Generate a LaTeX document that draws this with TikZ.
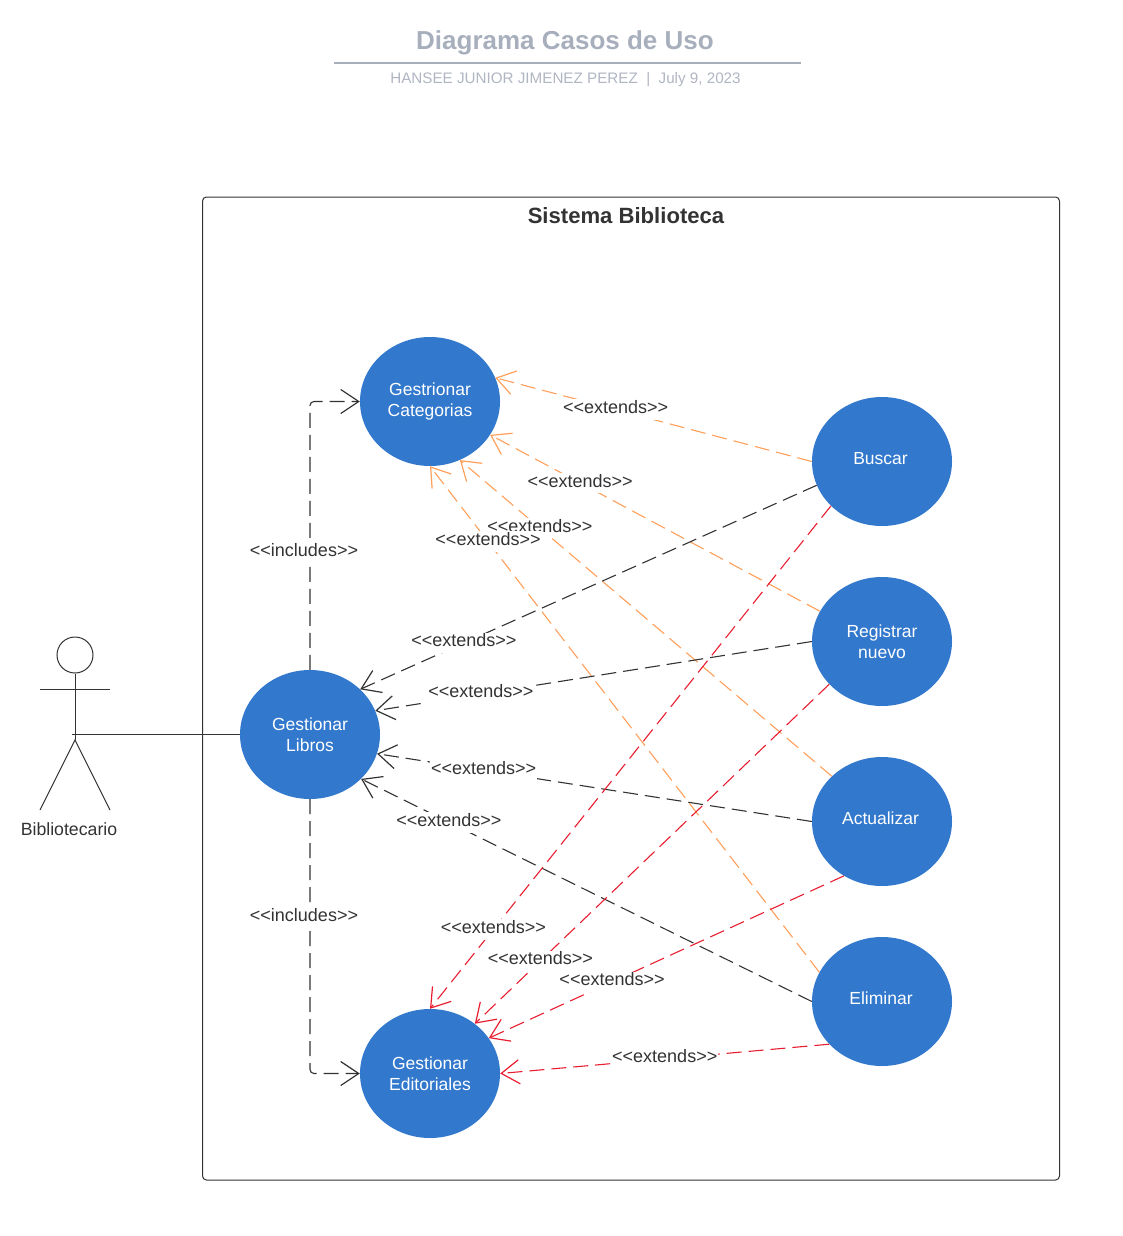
\documentclass[tikz,border=0pt]{standalone}
\usepackage{fontspec}
\setmainfont[Ligatures=TeXOff]{Liberation Sans}
\usetikzlibrary{arrows.meta}
\usetikzlibrary{shapes.geometric}

\definecolor{ucblue}{RGB}{50,120,204}
\definecolor{ink}{RGB}{51,51,51}
\definecolor{headgray}{RGB}{168,175,188}
\definecolor{subgray}{RGB}{176,181,194}
\definecolor{linkorange}{RGB}{255,159,90}
\definecolor{linkred}{RGB}{232,30,48}

\tikzset{
  usecase/.style={ellipse,fill=ucblue,text=white,minimum width=140pt,minimum height=129pt,inner sep=0pt,align=center,font=\fontsize{17.5}{21}\selectfont},
  lbl/.style={fill=white,text=ink,inner xsep=1pt,inner ysep=0pt,text height=14.25pt,text depth=6.25pt,font=\fontsize{18}{21}\selectfont},
  link/.style={line width=1.1pt,dash pattern=on 15pt off 7pt,-{Straight Barb[length=18pt,width=24pt,line width=1.2pt]}},
  xorange/.style={link,color=linkorange},
  xblack/.style={link,color=ink},
  xred/.style={link,color=linkred},
  person/.style={line width=1pt,color=ink}
}

\begin{document}
\begin{tikzpicture}[x=1pt,y=-1pt]
  \useasboundingbox (0,0) rectangle (1123,1236);

  \node [text=headgray,font=\bfseries\fontsize{26}{30}\selectfont] (title) at (565,43) {Diagrama Casos de Uso};
  \coordinate (ruleleft) at (334,63);
  \coordinate (ruleright) at (801,63);
  \draw [headgray,line width=2pt] (ruleleft) -- (ruleright);
  \node [text=subgray,font=\fontsize{15.2}{18}\selectfont] (subtitle) at (565.5,80) {HANSEE JUNIOR JIMENEZ PEREZ~~|~~July 9, 2023};

  \draw [ink,line width=1pt,rounded corners=4pt] (202.5,197) rectangle (1059.5,1180);
  \node [text=ink,font=\bfseries\fontsize{22.1}{26}\selectfont] (system) at (626,215.5) {Sistema Biblioteca};

  \node [usecase] (cat) at (430,401.5)  {Gestrionar\\Categorias};
  \node [usecase] (lib) at (310,734.5)  {Gestionar\\Libros};
  \node [usecase] (edi) at (430,1073.5) {Gestionar\\Editoriales};
  \node [usecase] (bus) at (882,461.5)  {\raisebox{6pt}{Buscar\hspace{3pt}}};
  \node [usecase] (reg) at (882,641.5)  {Registrar\\nuevo};
  \node [usecase] (act) at (882,821.5)  {\raisebox{6pt}{Actualizar\hspace{3pt}}};
  \node [usecase] (eli) at (882,1001.5) {\raisebox{6pt}{Eliminar\hspace{2pt}}};

  % actor
  \node [draw=ink,line width=1pt,circle,minimum size=36pt,inner sep=0pt] (head) at (75,655) {};
  \coordinate (hip) at (75,740);
  \coordinate (armleft) at (40,689);
  \coordinate (armright) at (110,689);
  \coordinate (footleft) at (40,810);
  \coordinate (footright) at (110,810);
  \coordinate (hand) at (72,734.5);
  \draw [person] (head) -- (hip);
  \draw [person] (armleft) -- (armright);
  \draw [person] (footleft) -- (hip) -- (footright);
  \node [text=ink,font=\fontsize{17.7}{21}\selectfont] (actor) at (69,829.5) {Bibliotecario};
  \draw [person] (hand) -- (lib.west);

  % includes
  \draw [xblack,rounded corners=4pt] (lib.north) |- (cat.west) node[lbl,pos=.219,xshift=-6pt] {<<includes>>};
  \draw [xblack,rounded corners=4pt] (lib.south) |- (edi.west) node[lbl,pos=.2155,xshift=-6pt] {<<includes>>};

  % extends to Categorias
  \draw [xorange] (bus.180) -- (cat.20.7) node[lbl,pos=.620] {<<extends>>};
  \draw [xorange] (reg.154) -- (cat.-29.5) node[lbl,pos=.727] {<<extends>>};
  \draw [xorange] (act.138.6) -- (cat.-63.8) node[lbl,pos=.785] {<<extends>>};
  \draw [xorange] (eli.155) -- (cat.-90) node[lbl,pos=.851] {<<extends>>};

  % extends to Libros
  \draw [xblack] (bus.200.6) -- (lib.42) node[lbl,pos=.773] {<<extends>>};
  \draw [xblack] (reg.180) -- (lib.20.3) node[lbl,pos=.758] {<<extends>>};
  \draw [xblack] (act.180) -- (lib.-16) node[lbl,pos=.755] {<<extends>>};
  \draw [xblack] (eli.180) -- (lib.-41) node[lbl,pos=.805] {<<extends>>};

  % extends to Editoriales
  \draw [xred] (bus.221) -- (edi.90) node[lbl,pos=.842] {<<extends>>};
  \draw [xred] (reg.219.5) -- (edi.48.7) node[lbl,pos=.815] {<<extends>>};
  \draw [xred] (act.235.6) -- (edi.31.8) node[lbl,pos=.653] {<<extends>>};
  \draw [xred] (eli.219.5) -- (edi.0) node[lbl,pos=.5] {<<extends>>};
\end{tikzpicture}
\end{document}
